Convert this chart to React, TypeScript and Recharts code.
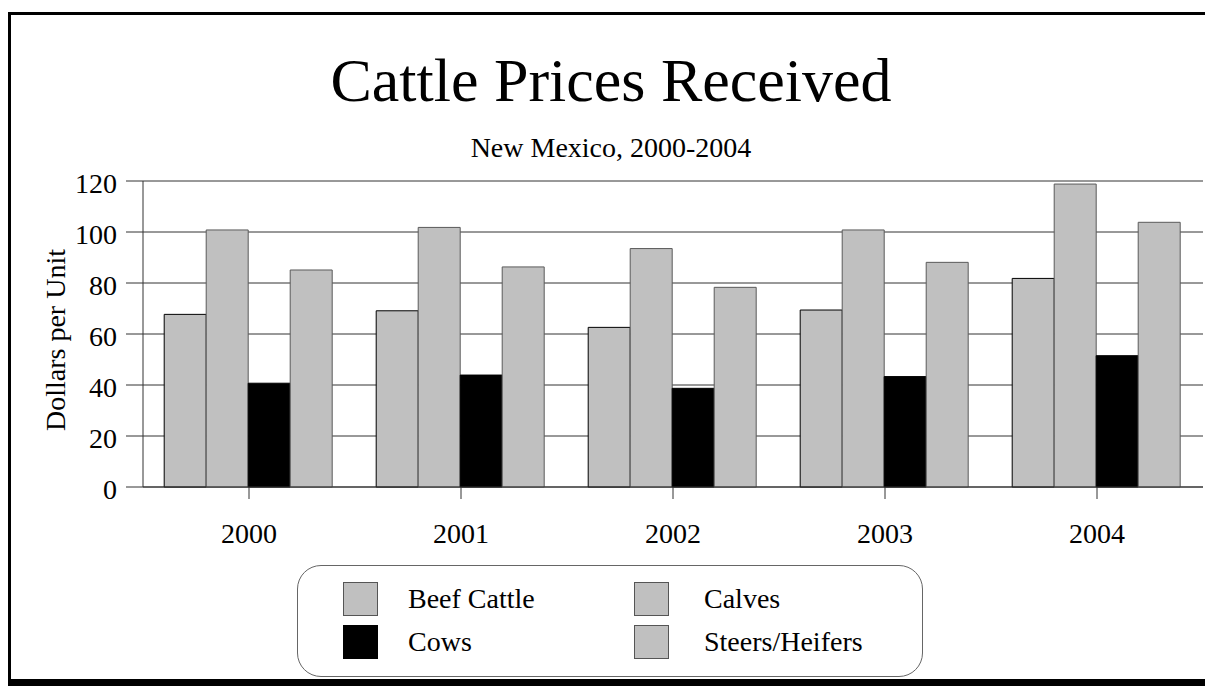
import { Bar, BarChart, CartesianGrid, Legend, XAxis, YAxis } from "recharts";

const years = ["2000", "2001", "2002", "2003", "2004"];
const beefCattle = [67.7, 69.1, 62.6, 69.4, 81.8];
const calves = [100.8, 101.8, 93.5, 100.8, 118.8];
const cows = [40.7, 43.9, 38.7, 43.3, 51.5];
const steersHeifers = [85.1, 86.3, 78.3, 88.1, 103.8];
const yTicks = [0, 20, 40, 60, 80, 100, 120];

const data = years.map((year, i) => ({
  year,
  beef: beefCattle[i],
  calves: calves[i],
  cows: cows[i],
  steers: steersHeifers[i],
}));

const FONT = '"Liberation Serif", "Times New Roman", serif';
const GRAY = "#c0c0c0";

const series = [
  { key: "beef", name: "Beef Cattle", fill: GRAY, stroke: "#000" },
  { key: "calves", name: "Calves", fill: GRAY, stroke: "#5a5a5a" },
  { key: "cows", name: "Cows", fill: "#000", stroke: "#000" },
  { key: "steers", name: "Steers/Heifers", fill: GRAY, stroke: "#5a5a5a" },
];

function LegendBox() {
  return (
    <div
      style={{
        boxSizing: "border-box",
        width: 626,
        height: 112,
        border: "1.5px solid #666",
        borderRadius: 24,
        position: "relative",
        fontFamily: FONT,
        fontSize: 28,
        color: "#000",
      }}
    >
      {series.map((s, i) => {
        const col = i % 2;
        const row = Math.floor(i / 2);
        return (
          <div
            key={s.key}
            style={{
              position: "absolute",
              left: col === 0 ? 45 : 336,
              top: row === 0 ? 16 : 59,
              display: "flex",
              alignItems: "flex-start",
              whiteSpace: "nowrap",
            }}
          >
            <span
              style={{
                display: "inline-block",
                boxSizing: "border-box",
                width: 35,
                height: 34,
                background: s.fill,
                border: s.key === "cows" ? "1px solid #000" : "1px solid #555",
              }}
            />
            <span style={{ marginLeft: col === 0 ? 30 : 35, lineHeight: "34px" }}>{s.name}</span>
          </div>
        );
      })}
    </div>
  );
}

export default function App() {
  return (
    <div style={{ position: "absolute", left: 0, top: 0, width: 1205, height: 686, background: "#fff", fontFamily: FONT }}>
      <div
        style={{
          position: "absolute",
          left: 8,
          top: 12,
          width: 1197,
          height: 674,
          boxSizing: "border-box",
          borderTop: "3px solid #000",
          borderLeft: "3px solid #000",
          borderBottom: "7px solid #000",
        }}
      />
      <div style={{ position: "absolute", left: 0, top: 0 }}>
        <BarChart
          width={1205}
          height={686}
          data={data}
          margin={{ top: 181, right: 2, left: 0, bottom: 139 }}
          barCategoryGap="10%"
          barGap={0}
        >
          <text x={611} y={101} textAnchor="middle" fontSize={62} fontFamily={FONT} fill="#000">
            Cattle Prices Received
          </text>
          <text x={611} y={157} textAnchor="middle" fontSize={28} fontFamily={FONT} fill="#000">
            New Mexico, 2000-2004
          </text>
          <text transform="translate(65,340) rotate(-90)" textAnchor="middle" fontSize={28} fontFamily={FONT} fill="#000">
            Dollars per Unit
          </text>
          <CartesianGrid vertical={false} stroke="#333" strokeWidth={1} />
          <XAxis
            dataKey="year"
            height={60}
            tickSize={12}
            tickMargin={24}
            tickLine={{ stroke: "#333" }}
            axisLine={{ stroke: "#333" }}
            tick={{ fontSize: 28, fontFamily: FONT, fill: "#000" }}
          />
          <YAxis
            width={143}
            domain={[0, 120]}
            ticks={yTicks}
            tickSize={17}
            tickMargin={9}
            tickLine={{ stroke: "#333" }}
            axisLine={{ stroke: "#333" }}
            tick={{ fontSize: 28, fontFamily: FONT, fill: "#000", dy: 2 }}
          />
          <Legend
            layout="vertical"
            align="center"
            verticalAlign="middle"
            wrapperStyle={{ left: 297, top: 565, width: 626, height: 112 }}
            content={() => <LegendBox />}
          />
          {series.map((s) => (
            <Bar
              key={s.key}
              dataKey={s.key}
              name={s.name}
              fill={s.fill}
              stroke={s.stroke}
              strokeWidth={1}
              isAnimationActive={false}
            />
          ))}
        </BarChart>
      </div>
    </div>
  );
}
